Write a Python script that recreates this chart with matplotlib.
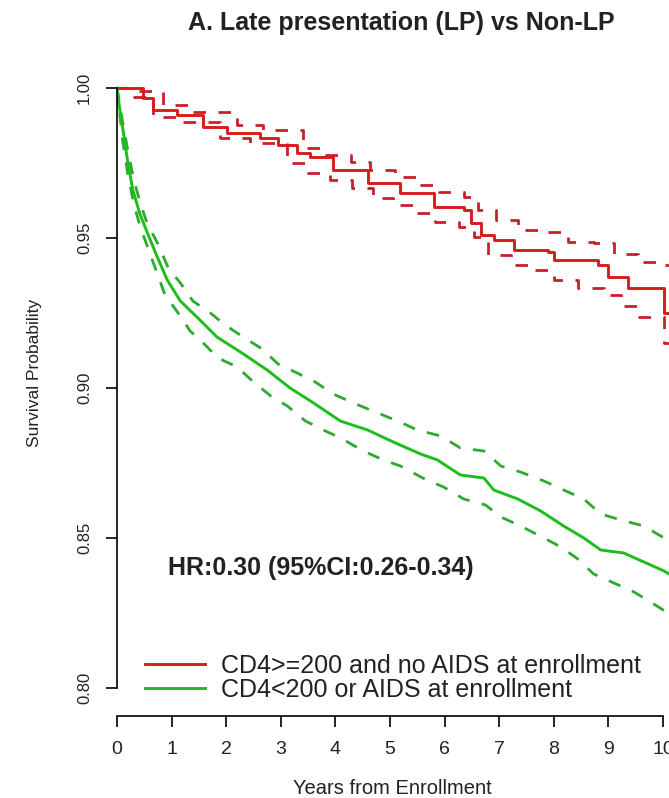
import matplotlib
matplotlib.use("Agg")
import matplotlib.pyplot as plt

plt.rcParams['font.family'] = ['Liberation Sans', 'DejaVu Sans']

# ---- data ----
red_t = [0, 0.05, 0.48, 0.66, 1.10, 1.58, 2.02, 2.62, 2.94, 3.30, 3.54, 3.96, 4.59, 5.19, 5.80, 6.35,
         6.48, 6.66, 6.90, 7.27, 7.89, 8.00, 8.81, 9.00, 9.36, 10.02, 10.2]
red_s = [1.0, 1.0, 0.9967, 0.9927, 0.991, 0.987, 0.985, 0.9833, 0.981, 0.9783, 0.977, 0.9727, 0.9683,
         0.965, 0.9603, 0.9593, 0.955, 0.951, 0.9493, 0.946, 0.9453, 0.9427, 0.941, 0.937, 0.9333, 0.925, 0.925]
red_up_t = [0, 0.30, 0.84, 1.34, 2.20, 2.68, 3.41, 3.82, 4.28, 4.64, 5.10, 5.50, 5.89, 6.35, 6.61, 6.94, 7.34,
            7.89, 8.26, 8.73, 9.10, 9.54, 10.02, 10.2]
red_up_s = [1.0, 0.999, 0.9943, 0.992, 0.9877, 0.986, 0.980, 0.9777, 0.9753, 0.9727, 0.9703, 0.9677, 0.9653,
            0.9637, 0.9593, 0.956, 0.9527, 0.952, 0.9487, 0.9483, 0.9447, 0.942, 0.941, 0.941]
red_lo_t = [0, 0.30, 0.66, 1.16, 1.89, 2.44, 3.12, 3.49, 3.91, 4.31, 4.68, 5.06, 5.47, 5.83, 6.26, 6.53, 6.79,
            7.21, 7.63, 8.00, 8.44, 8.92, 9.23, 9.54, 10.02, 10.2]
red_lo_s = [1.0, 0.997, 0.9903, 0.9887, 0.9833, 0.9817, 0.975, 0.9717, 0.9693, 0.9667, 0.9633, 0.961, 0.9583,
            0.9553, 0.9537, 0.9503, 0.9443, 0.941, 0.9393, 0.936, 0.9333, 0.931, 0.9273, 0.9237, 0.915, 0.915]

green_t = [0, 0.05, 0.11, 0.20, 0.29, 0.42, 0.55, 0.73, 0.92, 1.16, 1.50, 1.83, 2.26, 2.75, 3.17, 3.60,
           4.09, 4.59, 5.06, 5.56, 5.87, 6.29, 6.72, 6.90, 7.34, 7.76, 8.18, 8.55, 8.86, 9.28, 9.65, 10.02, 10.2]
green_s = [1.0, 0.993, 0.986, 0.975, 0.966, 0.958, 0.952, 0.944, 0.936, 0.929, 0.923, 0.917, 0.912, 0.906,
           0.900, 0.895, 0.889, 0.886, 0.882, 0.878, 0.876, 0.871, 0.870, 0.866, 0.863, 0.859, 0.854, 0.850,
           0.846, 0.845, 0.842, 0.839, 0.837]
green_up_t = [0, 0.10, 0.20, 0.30, 0.42, 0.55, 0.75, 0.94, 1.16, 1.39, 1.71, 1.98, 2.31, 2.66, 2.95, 3.30,
              3.63, 3.96, 4.33, 4.73, 5.14, 5.50, 5.93, 6.29, 6.72, 7.03, 7.39, 7.82, 8.18, 8.55, 8.86, 9.23,
              9.65, 10.02, 10.2]
green_up_s = [1.0, 0.989, 0.979, 0.970, 0.962, 0.955, 0.948, 0.940, 0.935, 0.929, 0.925, 0.921, 0.917, 0.913,
              0.908, 0.905, 0.902, 0.898, 0.895, 0.892, 0.889, 0.886, 0.884, 0.880, 0.879, 0.874, 0.872, 0.869,
              0.866, 0.863, 0.858, 0.856, 0.854, 0.850, 0.849]
green_lo_t = [0, 0.10, 0.20, 0.30, 0.42, 0.60, 0.88, 1.12, 1.34, 1.58, 1.85, 2.20, 2.50, 2.84, 3.12, 3.45,
              3.78, 4.13, 4.51, 4.88, 5.19, 5.60, 5.98, 6.35, 6.75, 7.03, 7.39, 7.82, 8.13, 8.44, 8.73, 9.10,
              9.47, 9.83, 10.09, 10.2]
green_lo_s = [1.0, 0.983, 0.971, 0.962, 0.954, 0.945, 0.931, 0.925, 0.919, 0.915, 0.910, 0.907, 0.902, 0.897,
              0.894, 0.889, 0.886, 0.883, 0.879, 0.876, 0.874, 0.870, 0.867, 0.863, 0.861, 0.857, 0.854, 0.850,
              0.847, 0.843, 0.838, 0.835, 0.832, 0.828, 0.825, 0.823]

labels = ["CD4>=200 and no AIDS at enrollment", "CD4<200 or AIDS at enrollment"]
title = "A. Late presentation (LP) vs Non-LP"
hr_text = "HR:0.30 (95%CI:0.26-0.34)"
xticks = list(range(0, 11))
yticks = [0.80, 0.85, 0.90, 0.95, 1.00]

# ---- figure ----
W, H = 669, 798
fig = plt.figure(figsize=(W / 100, H / 100), dpi=100)
ax_left, ax_right, ax_bottom, ax_top = 117, 669, 716, 64
ax_w, ax_h = ax_right - ax_left, ax_bottom - ax_top
ax = fig.add_axes([ax_left / W, 1 - ax_bottom / H, ax_w / W, ax_h / H])
ax.set_xlim(0, (669 - 117) / 54.6)
ax.set_ylim(1 - (716 - 88) / 3000, 1 - (64 - 88) / 3000)

RED = '#d81c1c'
RED_CI = '#c8202a'
GREEN = '#1dbd1d'
GREEN_CI = '#2faa2f'
dash = (0, (4.5, 4.5))

ax.plot(red_up_t, red_up_s, drawstyle='steps-post', color=RED_CI, lw=2.0, linestyle=dash)
ax.plot(red_lo_t, red_lo_s, drawstyle='steps-post', color=RED_CI, lw=2.0, linestyle=dash)
ax.plot(green_up_t, green_up_s, color=GREEN_CI, lw=2.0, linestyle=dash)
ax.plot(green_lo_t, green_lo_s, color=GREEN_CI, lw=2.0, linestyle=dash)
l1, = ax.plot(red_t, red_s, drawstyle='steps-post', color=RED, lw=2.1)
l2, = ax.plot(green_t, green_s, color=GREEN, lw=2.1)

for s in ['top', 'right']:
    ax.spines[s].set_visible(False)
ax.spines['left'].set_bounds(0.80, 1.00)
ax.spines['bottom'].set_bounds(0, 10)
for s in ['left', 'bottom']:
    ax.spines[s].set_linewidth(1.2)
ax.set_xticks(xticks)
ax.set_xticklabels([str(v) for v in xticks])
ax.set_yticks(yticks)
ax.set_yticklabels([f"{v:.2f}" for v in yticks], rotation=90, va='center')
ax.tick_params(axis='both', length=8, width=1.2, colors='black', labelcolor='#222222')
ax.tick_params(axis='x', labelsize=14, pad=10)
ax.tick_params(axis='y', labelsize=12, pad=10)
ax.set_xlabel("Years from Enrollment", fontsize=14.5, color='#222222', va='center')
ax.xaxis.set_label_coords((392 - ax_left) / ax_w, (ax_bottom - 789) / ax_h)
ax.set_ylabel("Survival Probability", fontsize=12.5, color='#222222', va='center')
ax.yaxis.set_label_coords((35 - ax_left) / ax_w, (ax_bottom - 373) / ax_h)

ax.text(0.94, 0.840, hr_text, fontsize=18, fontweight='bold', color='#222222', va='center', ha='left')

fig.text(401 / W, 1 - 23 / H, title, fontsize=18, fontweight='bold', color='#222222', ha='center', va='center')

leg = ax.legend([l1, l2], labels, loc='lower left', bbox_to_anchor=(145 / W, 1 - 702 / H),
                bbox_transform=fig.transFigure, frameon=False, fontsize=18, handlelength=2.4,
                handletextpad=0.65, labelspacing=0.0, borderpad=0, borderaxespad=0)
for t in leg.get_texts():
    t.set_color('#222222')

fig.savefig("out.png", dpi=100, facecolor='white')
